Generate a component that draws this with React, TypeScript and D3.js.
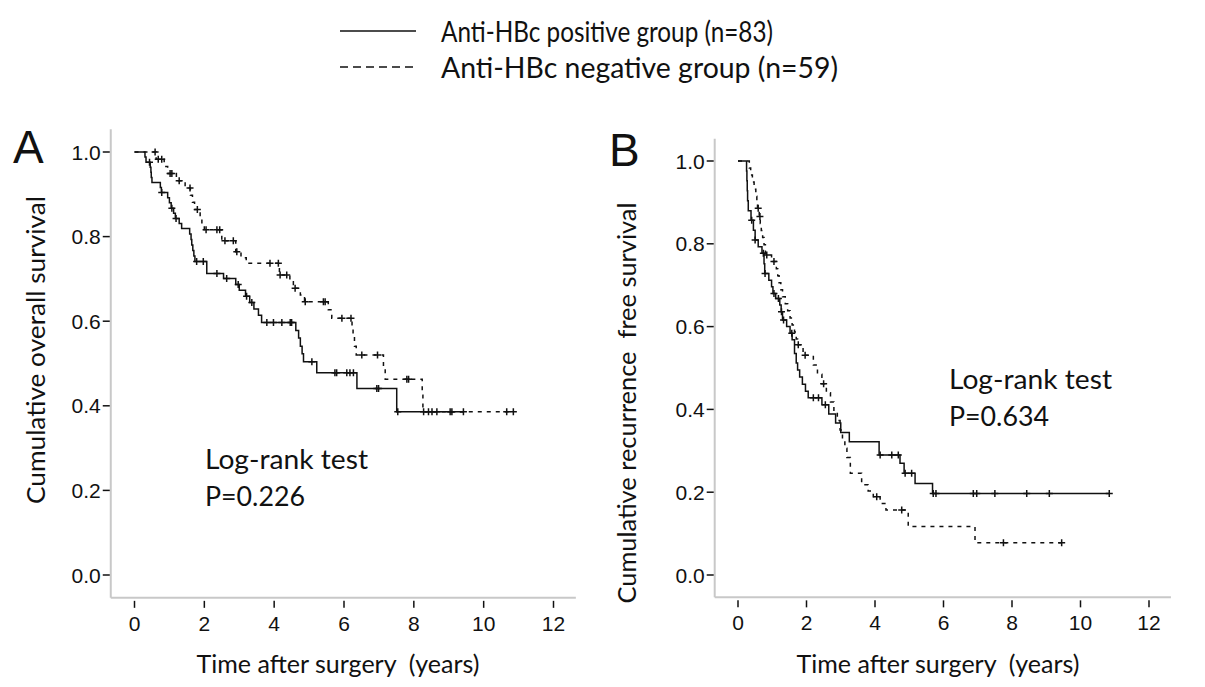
import React, { useEffect, useRef } from "react";
import * as d3 from "d3";

type Step = [number, number];

const xTicks = [0, 2, 4, 6, 8, 10, 12];
const yTicks = [0, 0.2, 0.4, 0.6, 0.8, 1.0];
const legendLabels = ["Anti-HBc positive group (n=83)", "Anti-HBc negative group (n=59)"];
const xTitle = "Time after surgery  (years)";

// Panel A: overall survival, [time (years), survival after the event]
const osPosSteps: Step[] = [
  [0, 1.0], [0.3, 0.988], [0.33, 0.976], [0.45, 0.964], [0.47, 0.952], [0.48, 0.94], [0.5, 0.928],
  [0.74, 0.916], [0.77, 0.904], [0.95, 0.892], [1.0, 0.88], [1.05, 0.867], [1.12, 0.855],
  [1.17, 0.843], [1.28, 0.831], [1.35, 0.819], [1.58, 0.806], [1.62, 0.793], [1.64, 0.78],
  [1.67, 0.767], [1.7, 0.754], [1.73, 0.741], [2.07, 0.713], [2.55, 0.701], [2.9, 0.687],
  [3.0, 0.673], [3.18, 0.659], [3.3, 0.644], [3.42, 0.629], [3.55, 0.614], [3.64, 0.597],
  [4.62, 0.578], [4.7, 0.56], [4.75, 0.541], [4.8, 0.523], [4.84, 0.504], [5.22, 0.478],
  [6.37, 0.441], [7.51, 0.386],
];
const osPosEnd = 9.42;
const osPosCensor = [
  0.43, 0.78, 1.07, 1.19, 1.78, 1.97, 2.36, 2.64, 2.97, 3.21, 3.36, 3.79, 3.98, 4.22, 4.46, 4.5,
  5.08, 5.74, 5.79, 6.08, 6.17, 6.27, 6.94, 6.99, 7.54, 8.42, 8.52, 9.04, 9.42,
];
const osNegSteps: Step[] = [
  [0, 1.0], [0.62, 0.983], [0.85, 0.966], [0.95, 0.949], [1.2, 0.932], [1.45, 0.915],
  [1.6, 0.898], [1.66, 0.881], [1.72, 0.864], [1.88, 0.847], [1.93, 0.83], [2.0, 0.816],
  [2.5, 0.79], [2.9, 0.764], [3.05, 0.75], [3.2, 0.737], [4.15, 0.709], [4.45, 0.693],
  [4.55, 0.678], [4.75, 0.662], [4.87, 0.646], [5.55, 0.627], [5.65, 0.607], [6.23, 0.585],
  [6.26, 0.563], [6.3, 0.541], [6.35, 0.52], [7.13, 0.491], [7.18, 0.463], [8.24, 0.425],
  [8.26, 0.386],
];
const osNegEnd = 10.85;
const osNegCensor = [
  0.59, 0.68, 0.78, 1.02, 1.07, 1.28, 1.59, 1.8, 2.05, 2.36, 2.44, 2.59, 2.83, 2.93, 3.88, 4.12,
  4.17, 4.36, 4.6, 4.89, 5.41, 5.46, 5.94, 6.2, 6.51, 6.96, 7.8, 7.85, 8.28, 8.66, 9.09, 10.66, 10.85,
];

// Panel B: recurrence free survival
const rfsPosSteps: Step[] = [
  [0, 1.0], [0.25, 0.976], [0.26, 0.952], [0.27, 0.928], [0.28, 0.904], [0.3, 0.88],
  [0.38, 0.857], [0.45, 0.833], [0.5, 0.809], [0.59, 0.793], [0.7, 0.777], [0.76, 0.752],
  [0.78, 0.728], [0.9, 0.712], [0.98, 0.696], [1.02, 0.68], [1.1, 0.668], [1.22, 0.652],
  [1.26, 0.636], [1.3, 0.616], [1.42, 0.6], [1.52, 0.584], [1.58, 0.568], [1.65, 0.535],
  [1.7, 0.512], [1.74, 0.495], [1.8, 0.478], [1.88, 0.461], [1.97, 0.444], [2.05, 0.428],
  [2.45, 0.411], [2.65, 0.389], [2.85, 0.367], [3.0, 0.344], [3.25, 0.322], [4.12, 0.29],
  [4.73, 0.27], [4.85, 0.246], [5.17, 0.221], [5.68, 0.197],
];
const rfsPosEnd = 10.84;
const rfsPosCensor = [
  0.4, 0.5, 0.74, 0.79, 1.05, 1.18, 1.27, 1.33, 1.57, 2.2, 2.35, 2.55, 4.15, 4.49, 4.68, 4.88,
  5.07, 5.7, 5.78, 6.87, 6.97, 7.5, 8.43, 9.09, 10.84,
];
const rfsNegSteps: Step[] = [
  [0, 1.0], [0.33, 0.983], [0.37, 0.966], [0.42, 0.949], [0.47, 0.932], [0.52, 0.915],
  [0.55, 0.898], [0.57, 0.886], [0.62, 0.866], [0.65, 0.849], [0.68, 0.832], [0.72, 0.815],
  [0.76, 0.798], [0.8, 0.773], [0.98, 0.757], [1.12, 0.74], [1.16, 0.723], [1.2, 0.706],
  [1.25, 0.689], [1.3, 0.672], [1.38, 0.655], [1.45, 0.638], [1.52, 0.621], [1.58, 0.604],
  [1.65, 0.587], [1.7, 0.57], [1.74, 0.556], [1.9, 0.531], [2.2, 0.507], [2.32, 0.485],
  [2.45, 0.462], [2.58, 0.44], [2.7, 0.418], [2.8, 0.395], [2.9, 0.373], [2.98, 0.35],
  [3.05, 0.328], [3.12, 0.306], [3.18, 0.284], [3.28, 0.246], [3.61, 0.218], [3.8, 0.203],
  [3.95, 0.189], [4.15, 0.173], [4.32, 0.157], [4.97, 0.117], [6.92, 0.078],
];
const rfsNegEnd = 9.45;
const rfsNegCensor = [0.59, 0.64, 0.84, 1.05, 1.76, 1.96, 2.5, 4.05, 4.78, 7.75, 9.45];

const panels = [
  {
    letter: "A", letterX: 13, letterY: 163,
    xRange: [134.5, 553.5], yRange: [575, 152],
    yTitle: "Cumulative overall survival", yTitleX: 45, yTitleY: 350, yTitleLen: 308,
    xTitleX: 338, xTitleLen: 283,
    logX: 205, logY: 469, pText: "P=0.226",
    pos: { steps: osPosSteps, end: osPosEnd, censor: osPosCensor },
    neg: { steps: osNegSteps, end: osNegEnd, censor: osNegCensor },
  },
  {
    letter: "B", letterX: 609, letterY: 166,
    xRange: [738, 1149], yRange: [575, 161],
    yTitle: "Cumulative recurrence  free survival", yTitleX: 636, yTitleY: 403, yTitleLen: 401,
    xTitleX: 938, xTitleLen: 283,
    logX: 949, logY: 389, pText: "P=0.634",
    pos: { steps: rfsPosSteps, end: rfsPosEnd, censor: rfsPosCensor },
    neg: { steps: rfsNegSteps, end: rfsNegEnd, censor: rfsNegCensor },
  },
];

const W = 1205;
const H = 687;
const TICK_FONT = "'Liberation Sans', Arial, sans-serif";
const TEXT_FONT = "Lato, 'Open Sans', sans-serif";

const survivalAt = (steps: Step[], t: number) => {
  let s = steps[0][1];
  for (const [st, sv] of steps) if (st <= t) s = sv;
  return s;
};

const App: React.FC = () => {
  const svgRef = useRef<SVGSVGElement>(null);

  useEffect(() => {
    if (!svgRef.current) return;
    const svg = d3.select(svgRef.current);
    svg.selectAll("*").remove();

    svg.append("rect").attr("width", W).attr("height", H).attr("fill", "#ffffff");

    // legend
    legendLabels.forEach((label, i) => {
      const ly = 31 + i * 36;
      svg.append("line")
        .attr("x1", 340).attr("x2", 416).attr("y1", ly).attr("y2", ly)
        .attr("stroke", "#111").attr("stroke-width", 1.5)
        .attr("stroke-dasharray", i === 1 ? "8,5" : null);
      svg.append("text")
        .attr("x", 441).attr("y", ly + 11)
        .attr("font-family", TEXT_FONT).attr("font-size", 28)
        .attr("fill", "#111")
        .attr("textLength", i === 0 ? 332 : 397)
        .attr("lengthAdjust", "spacingAndGlyphs")
        .text(label);
    });

    panels.forEach((p) => {
      const x = d3.scaleLinear().domain([0, 12]).range(p.xRange);
      const y = d3.scaleLinear().domain([0, 1]).range(p.yRange);
      const g = svg.append("g");

      const left = x(-0.68);
      const bottom = y(-0.054);

      // axis lines
      g.append("line")
        .attr("x1", left).attr("x2", left).attr("y1", y(1.054)).attr("y2", bottom)
        .attr("stroke", "#c8c8c8").attr("stroke-width", 2);
      g.append("line")
        .attr("x1", left).attr("x2", x(12.64)).attr("y1", bottom).attr("y2", bottom)
        .attr("stroke", "#c8c8c8").attr("stroke-width", 2);

      // y ticks
      yTicks.forEach((v) => {
        g.append("line")
          .attr("x1", left - 8).attr("x2", left - 1).attr("y1", y(v)).attr("y2", y(v))
          .attr("stroke", "#111").attr("stroke-width", 1.5);
        g.append("text")
          .attr("x", left - 10).attr("y", y(v) + 7.5)
          .attr("text-anchor", "end")
          .attr("font-family", TICK_FONT).attr("font-size", 21).attr("fill", "#111")
          .text(v.toFixed(1));
      });

      // x ticks
      xTicks.forEach((v) => {
        g.append("line")
          .attr("x1", x(v)).attr("x2", x(v)).attr("y1", bottom + 3).attr("y2", bottom + 10)
          .attr("stroke", "#111").attr("stroke-width", 1.5);
        g.append("text")
          .attr("x", x(v)).attr("y", bottom + 33)
          .attr("text-anchor", "middle")
          .attr("font-family", TICK_FONT).attr("font-size", 21).attr("fill", "#111")
          .text(String(v));
      });

      // titles
      g.append("text")
        .attr("x", p.xTitleX).attr("y", 673)
        .attr("text-anchor", "middle")
        .attr("font-family", TEXT_FONT).attr("font-size", 24.5).attr("fill", "#111")
        .attr("textLength", p.xTitleLen).attr("lengthAdjust", "spacingAndGlyphs")
        .style("white-space", "pre")
        .text(xTitle);
      g.append("text")
        .attr("transform", `translate(${p.yTitleX},${p.yTitleY}) rotate(-90)`)
        .attr("text-anchor", "middle")
        .attr("font-family", TEXT_FONT).attr("font-size", 24.5).attr("fill", "#111")
        .attr("textLength", p.yTitleLen).attr("lengthAdjust", "spacingAndGlyphs")
        .style("white-space", "pre")
        .text(p.yTitle);
      g.append("text")
        .attr("x", p.letterX).attr("y", p.letterY)
        .attr("font-family", TICK_FONT).attr("font-size", 46).attr("fill", "#111")
        .text(p.letter);

      // log-rank annotation
      g.append("text")
        .attr("x", p.logX).attr("y", p.logY)
        .attr("font-family", TEXT_FONT).attr("font-size", 27).attr("fill", "#111")
        .attr("textLength", 163).attr("lengthAdjust", "spacingAndGlyphs")
        .text("Log-rank test");
      g.append("text")
        .attr("x", p.logX).attr("y", p.logY + 37)
        .attr("font-family", TEXT_FONT).attr("font-size", 27).attr("fill", "#111")
        .attr("textLength", 100).attr("lengthAdjust", "spacingAndGlyphs")
        .text(p.pText);

      // curves
      const line = d3.line<Step>()
        .x((d) => x(d[0]))
        .y((d) => y(d[1]))
        .curve(d3.curveStepAfter);

      [p.pos, p.neg].forEach((c, i) => {
        const pts: Step[] = [...c.steps, [c.end, c.steps[c.steps.length - 1][1]]];
        g.append("path")
          .attr("d", line(pts) || "")
          .attr("fill", "none")
          .attr("stroke", "#111")
          .attr("stroke-width", 1.5)
          .attr("stroke-dasharray", i === 1 ? "4,5" : null);

        g.selectAll(null)
          .data(c.censor)
          .join("path")
          .attr("d", (t) => {
            const cx = x(t);
            const cy = y(survivalAt(c.steps, t));
            return `M${cx - 3.5},${cy}h7M${cx},${cy - 3.5}v7`;
          })
          .attr("stroke", "#111")
          .attr("stroke-width", 1.5)
          .attr("fill", "none");
      });
    });
  }, []);

  return (
    <svg
      ref={svgRef}
      width={W}
      height={H}
      viewBox={`0 0 ${W} ${H}`}
      style={{ position: "absolute", left: 0, top: 0, display: "block" }}
    />
  );
};

export default App;
